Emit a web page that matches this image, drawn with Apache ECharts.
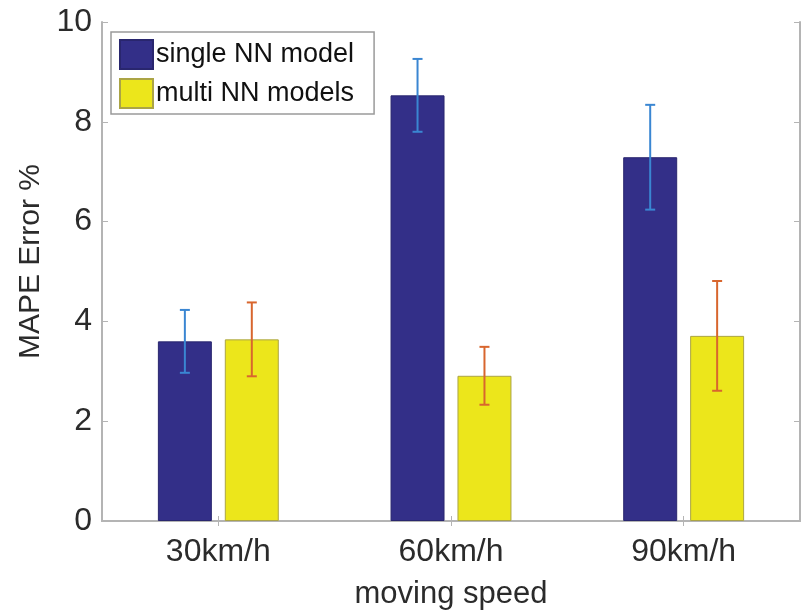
<!DOCTYPE html>
<html>
<head>
<meta charset="utf-8">
<script src="https://cdn.jsdelivr.net/npm/echarts@6/dist/echarts.min.js"></script>
<style>
  html, body { margin: 0; padding: 0; background: #fff; }
  #chart { width: 804px; height: 610px; }
</style>
</head>
<body>
<div id="chart"></div>
<script>
var categories = ['30km/h', '60km/h', '90km/h']
var seriesNames = ['single NN model', 'multi NN models']
var singleValues = [3.6, 8.53, 7.29]
var singleErr = [0.63, 0.73, 1.05]
var multiValues = [3.64, 2.91, 3.71]
var multiErr = [0.74, 0.58, 1.1]
var yTicks = [0, 2, 4, 6, 8, 10]

var BAR_W = 0.232   // fraction of category band
var BAR_GAP = 0.24  // fraction of bar width

function errData(values, errs) {
  return values.map(function (v, i) {
    return [i, v - errs[i], v + errs[i]]
  })
}

function errSeries(name, values, errs, color, side) {
  return {
    name: name + ' err',
    type: 'custom',
    z: 5,
    silent: true,
    data: errData(values, errs),
    encode: { x: 0, y: [1, 2] },
    renderItem: function (params, api) {
      var band = api.size([1, 0])[0]
      var bw = band * BAR_W
      var off = side * (bw + bw * BAR_GAP) / 2
      var x = api.coord([api.value(0), 0])[0] + off
      var yLow = api.coord([api.value(0), api.value(1)])[1]
      var yHigh = api.coord([api.value(0), api.value(2)])[1]
      var cap = 5
      var style = { stroke: color, lineWidth: 2 }
      return {
        type: 'group',
        children: [
          { type: 'line', shape: { x1: x, y1: yLow, x2: x, y2: yHigh }, style: style },
          { type: 'line', shape: { x1: x - cap, y1: yHigh, x2: x + cap, y2: yHigh }, style: style },
          { type: 'line', shape: { x1: x - cap, y1: yLow, x2: x + cap, y2: yLow }, style: style }
        ]
      }
    }
  }
}

var frameLine = { show: true, lineStyle: { color: '#b4b4b4', width: 2 } }
var tickStyle = { color: '#b4b4b4' }
var textColor = '#2b2b2b'
var font = 'Liberation Sans, Arial, sans-serif'

var myChart = echarts.init(document.getElementById('chart'))
var option = {
  animation: false,
  backgroundColor: '#fff',
  textStyle: { fontFamily: font },
  grid: { left: 102, right: 4, top: 22, bottom: 89, outerBoundsMode: 'none', containLabel: false },
  legend: {
    orient: 'vertical',
    left: 111,
    top: 32,
    padding: [7, 20, 5, 8],
    itemWidth: 33,
    itemHeight: 29,
    itemGap: 8,
    icon: 'rect',
    backgroundColor: '#fff',
    borderColor: '#9a9a9a',
    borderWidth: 1.5,
    borderRadius: 0,
    data: seriesNames,
    textStyle: { fontSize: 27, color: '#111', fontFamily: font, padding: [0, 0, 0, -2] }
  },
  xAxis: [{
    type: 'category',
    data: categories,
    position: 'bottom',
    axisLine: frameLine,
    axisTick: { show: true, inside: true, alignWithLabel: true, length: 5, lineStyle: tickStyle },
    axisLabel: { fontSize: 32, color: textColor, margin: 15 },
    name: 'moving speed',
    nameLocation: 'middle',
    nameGap: 58,
    nameTextStyle: { fontSize: 31, color: textColor }
  }, {
    type: 'category',
    data: categories,
    position: 'top',
    axisLine: frameLine,
    axisTick: { show: true, inside: true, alignWithLabel: true, length: 5, lineStyle: tickStyle },
    axisLabel: { show: false }
  }],
  yAxis: [{
    type: 'value',
    min: yTicks[0],
    max: yTicks[yTicks.length - 1],
    interval: 2,
    position: 'left',
    axisLine: frameLine,
    axisTick: { show: true, inside: true, length: 6, lineStyle: tickStyle },
    splitLine: { show: false },
    axisLabel: { fontSize: 32, color: textColor, margin: 10 },
    name: 'MAPE Error %',
    nameLocation: 'middle',
    nameGap: 55,
    nameTextStyle: { fontSize: 30, color: textColor, padding: [0, 0, 0, 20] }
  }, {
    type: 'value',
    min: yTicks[0],
    max: yTicks[yTicks.length - 1],
    interval: 2,
    position: 'right',
    axisLine: frameLine,
    axisTick: { show: true, inside: true, length: 6, lineStyle: tickStyle },
    splitLine: { show: false },
    axisLabel: { show: false }
  }],
  series: [{
    name: seriesNames[0],
    type: 'bar',
    barWidth: (BAR_W * 100) + '%',
    barGap: (BAR_GAP * 100) + '%',
    itemStyle: { color: '#332f88', borderColor: '#29266e', borderWidth: 1 },
    data: singleValues
  }, {
    name: seriesNames[1],
    type: 'bar',
    barWidth: (BAR_W * 100) + '%',
    barGap: (BAR_GAP * 100) + '%',
    itemStyle: { color: '#ece61b', borderColor: '#aba445', borderWidth: 1 },
    data: multiValues
  },
  errSeries(seriesNames[0], singleValues, singleErr, '#3a86d2', -1),
  errSeries(seriesNames[1], multiValues, multiErr, '#d8662e', 1)
  ]
}
myChart.setOption(option)
</script>
</body>
</html>
